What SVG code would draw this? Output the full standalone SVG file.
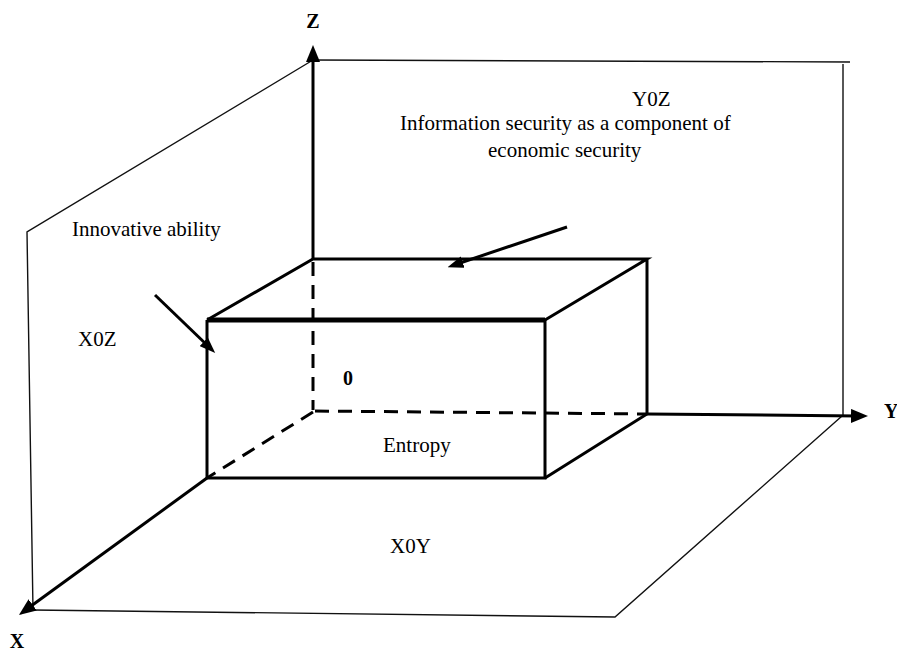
<svg xmlns="http://www.w3.org/2000/svg" width="897" height="653" viewBox="0 0 897 653">
<style>
.pl{fill:none;stroke:#111;stroke-width:1.4}
.ax{fill:none;stroke:#000;stroke-width:3}
.dash{fill:none;stroke:#000;stroke-width:3;stroke-dasharray:14 9}
.bx{fill:none;stroke:#000;stroke-width:3}
.t{font-family:"Liberation Serif","Times New Roman",serif;font-size:21px;fill:#000}
.b{font-family:"Liberation Serif","Times New Roman",serif;font-size:20px;font-weight:bold;fill:#000}
</style>
<defs>
<marker id="big" viewBox="0 0 17 14" refX="7" refY="7" markerWidth="17" markerHeight="14" markerUnits="userSpaceOnUse" orient="auto"><path d="M0,0 L17,7 L0,14 z" fill="#000"/></marker>
<marker id="sm" viewBox="0 0 16 12" refX="6" refY="6" markerWidth="16" markerHeight="12" markerUnits="userSpaceOnUse" orient="auto"><path d="M0,0 L16,6 L0,12 z" fill="#000"/></marker>
</defs>
<g id="planes">
<path class="pl" d="M313,60 L27,232 L33,610"/>
<path class="pl" d="M313,60 L850,62 M843,64 L843,416"/>
<path class="pl" d="M33,610 L615,617 L842,416"/>
</g>
<g id="box">
<path class="bx" d="M207,478 L207,320 M545,320 L545,478 L207,478"/>
<path class="bx" d="M207,320 L313,259 L647,259 L545,320 M647,259 L647,414 L545,478"/>
<path d="M207,320 L545,320" stroke="#000" stroke-width="5" fill="none"/>
</g>
<g id="connectors">
<path class="dash" d="M313,262 L313,410"/>
<path class="dash" d="M315,411 L647,414"/>
<path class="dash" d="M313,412 L207,478"/>
<path class="ax" d="M313,259 L313,55" marker-end="url(#big)"/>
<path class="ax" d="M647,414 L858,416" marker-end="url(#big)"/>
<path class="ax" d="M207,478 L27,609" marker-end="url(#big)"/>
<path class="ax" d="M155,295 L208,346" marker-end="url(#sm)"/>
<path class="ax" d="M567,227 L457,264" marker-end="url(#sm)"/>
</g>
<g id="labels">
<text class="b" x="313" y="28" text-anchor="middle">Z</text>
<text class="b" x="884" y="418">Y</text>
<text class="b" x="17" y="648" text-anchor="middle">X</text>
<text class="b" x="343" y="385">0</text>
<text class="t" x="632" y="106">Y0Z</text>
<text class="t" x="78" y="346">X0Z</text>
<text class="t" x="390" y="553">X0Y</text>
<text class="t" x="383" y="452">Entropy</text>
<text class="t" x="72" y="236">Innovative ability</text>
<text class="t" x="400" y="130">Information security as a component of</text>
<text class="t" x="488" y="157">economic security</text>
</g>
</svg>
